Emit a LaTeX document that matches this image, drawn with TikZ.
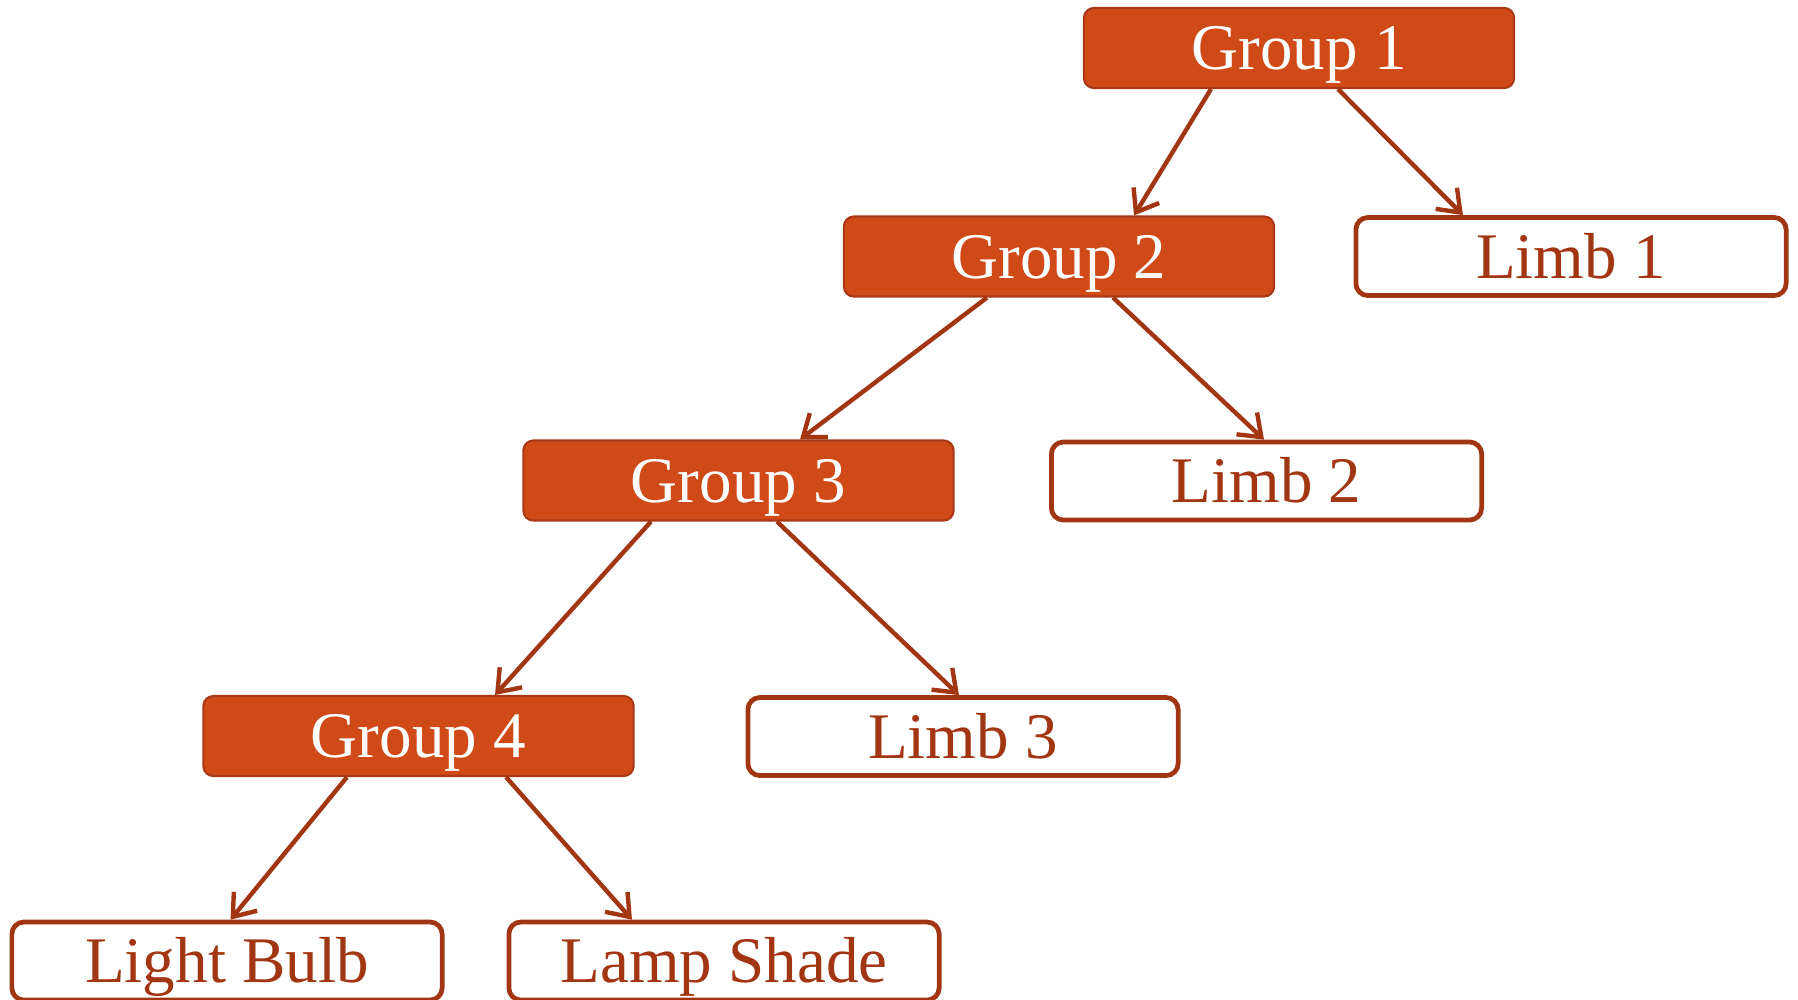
\documentclass[tikz,border=0pt]{standalone}
\usepackage{fontspec}
\setmainfont{Liberation Serif}
\usetikzlibrary{arrows.meta}
\definecolor{grpfill}{RGB}{208,74,24}
\definecolor{grpline}{RGB}{170,56,20}
\definecolor{limbline}{RGB}{163,54,18}
\tikzset{
  grpbox/.style={draw=grpline, line width=0.6pt, fill=grpfill, rounded corners=0.1cm,
    minimum width=4.30cm, minimum height=0.80cm, inner sep=0pt,
    text=white, font=\fontsize{18.5}{20}\selectfont, text height=0.43cm, text depth=0pt},
  limbbox/.style={draw=limbline, line width=1.35pt, fill=white, rounded corners=0.12cm,
    minimum width=4.30cm, minimum height=0.78cm, inner sep=0pt,
    text=limbline, font=\fontsize{18.5}{20}\selectfont, text height=0.43cm, text depth=0pt},
  arr/.style={draw=limbline, line width=1.25pt, -{Straight Barb[length=0.2cm,width=0.3cm,line width=1.25pt]}}
}
\begin{document}
\begin{tikzpicture}[x=0.01cm,y=-0.01cm]
\useasboundingbox (0,0) rectangle (1798,999);
\node[grpbox] (g1) at (1299,48) {Group 1};
\node[grpbox] (g2) at (1059,256.5) {Group 2};
\node[grpbox] (g3) at (738.5,480.5) {Group 3};
\node[grpbox] (g4) at (418.5,736) {Group 4};
\node[limbbox] (l1) at (1571,256.5) {Limb 1};
\node[limbbox] (l2) at (1266.5,481) {Limb 2};
\node[limbbox] (l3) at (963,736.5) {Limb 3};
\node[limbbox] (lb) at (227,961) {Light Bulb};
\node[limbbox] (ls) at (724,961) {Lamp Shade};
\draw[arr] ([xshift=-0.88cm]g1.south) -- ([xshift=0.75cm]g2.north);
\draw[arr] ([xshift=0.39cm]g1.south) -- ([xshift=-1.08cm]l1.north);
\draw[arr] ([xshift=-0.72cm]g2.south) -- ([xshift=0.615cm]g3.north);
\draw[arr] ([xshift=0.54cm]g2.south) -- ([xshift=-0.025cm]l2.north);
\draw[arr] ([xshift=-0.875cm]g3.south) -- ([xshift=0.765cm]g4.north);
\draw[arr] ([xshift=0.385cm]g3.south) -- ([xshift=-0.04cm]l3.north);
\draw[arr] ([xshift=-0.715cm]g4.south) -- ([xshift=0.035cm]lb.north);
\draw[arr] ([xshift=0.875cm]g4.south) -- ([xshift=-0.92cm]ls.north);
\end{tikzpicture}
\end{document}
